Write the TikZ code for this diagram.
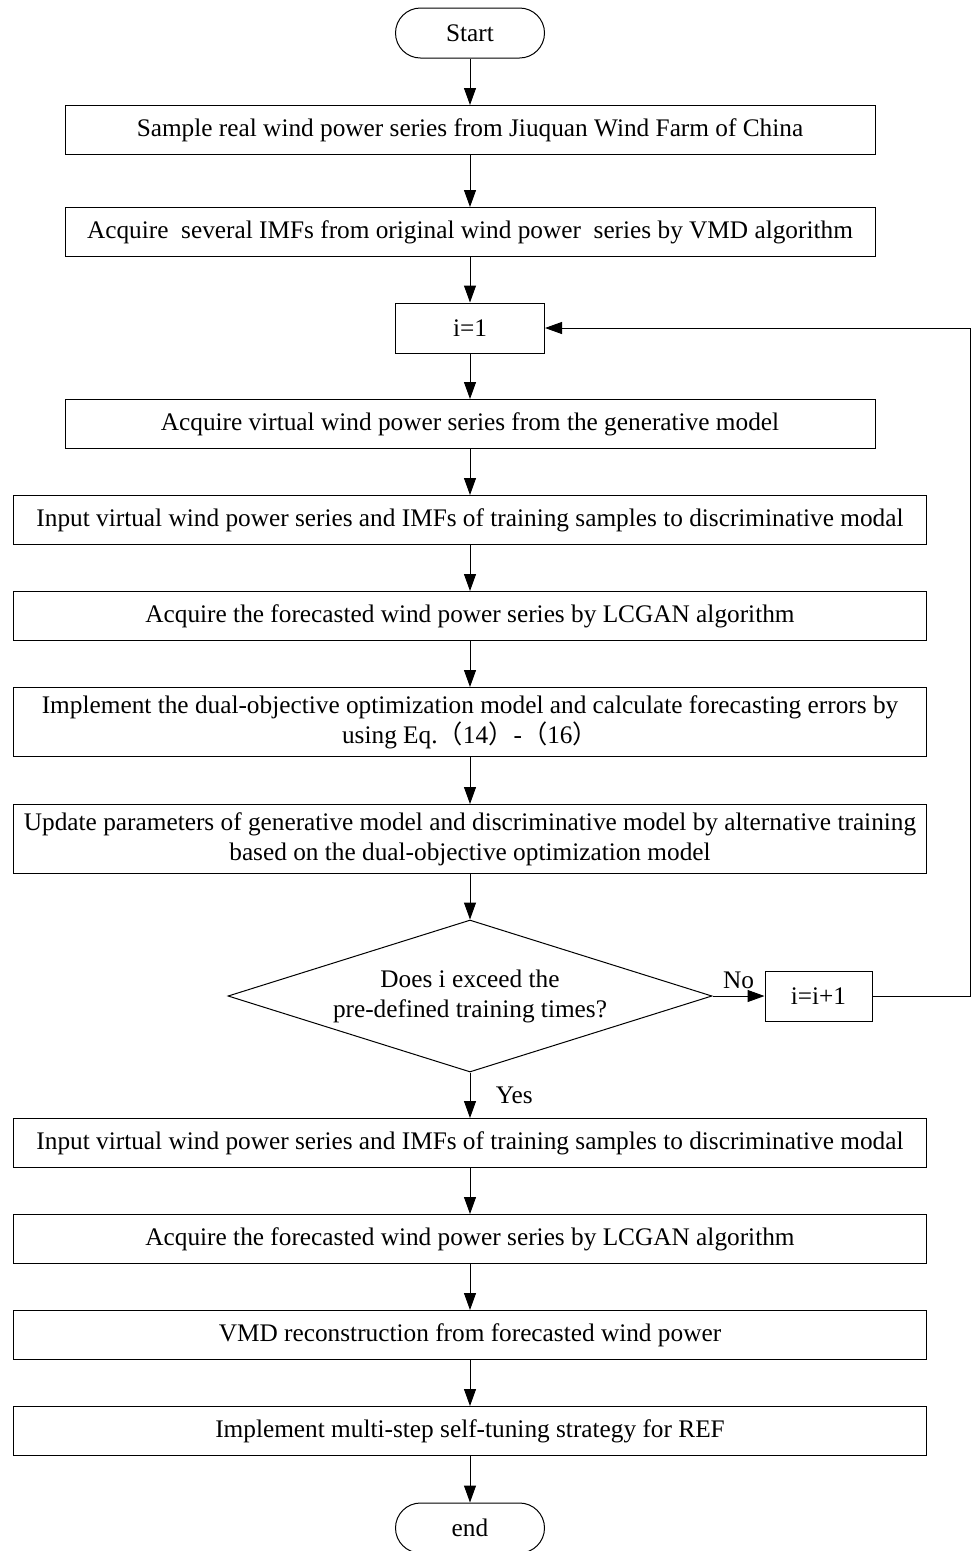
\documentclass[tikz,border=0pt]{standalone}
\usepackage{fontspec}
\setmainfont{Liberation Serif}
\newfontfamily\cjk{Noto Sans CJK SC}
\usetikzlibrary{shapes.geometric,arrows.meta}

\begin{document}
\begin{tikzpicture}[x=1pt,y=-1pt,line width=1pt,
  font=\fontsize{25.3}{30}\selectfont,
  >={Triangle[length=17pt,width=12pt]},
  term/.style={rectangle, draw, rounded corners=25pt, minimum width=149pt, minimum height=50pt, inner sep=0pt},
  box/.style={rectangle, draw, minimum width=810pt, minimum height=49pt, inner sep=0pt, align=center},
  wbox/.style={rectangle, draw, minimum width=913pt, minimum height=49pt, inner sep=0pt, align=center},
  small/.style={rectangle, draw, minimum height=50pt, inner sep=0pt}]
\useasboundingbox (0,0) rectangle (973,1551);

\node[term] (start) at (470,33) {Start};
\node[box] (samp) at (470,130) {Sample real wind power series from Jiuquan Wind Farm of China};
\node[box] (imf) at (470,232) {Acquire\ \ several IMFs from original wind power\ \ series by VMD algorithm};
\node[small, minimum width=149pt] (init) at (470,328) {i=1};
\node[box] (virt) at (470,424) {Acquire virtual wind power series from the generative model};
\node[wbox] (inp) at (470,520) {Input virtual wind power series and IMFs of training samples to discriminative modal};
\node[wbox] (fore) at (470,616) {Acquire the forecasted wind power series by LCGAN algorithm};
\node[wbox, minimum height=69pt] (impl) at (470,722) {Implement the dual-objective optimization model and calculate forecasting errors by\\ using Eq.{\cjk（}14{\cjk）}-{\cjk（}16{\cjk）}};
\node[wbox, minimum height=69pt] (upd) at (470,839) {Update parameters of generative model and discriminative model by alternative training\\ based on the dual-objective optimization model};
\node[diamond, draw, aspect=3.18, minimum width=484pt, minimum height=152pt, inner sep=0pt, align=center] (dec) at (470,996) {Does i exceed the\\ pre-defined training times?};
\node[small, minimum width=107pt] (incr) at (818.5,996) {i=i+1};
\node[wbox] (inp2) at (470,1143) {Input virtual wind power series and IMFs of training samples to discriminative modal};
\node[wbox] (fore2) at (470,1239) {Acquire the forecasted wind power series by LCGAN algorithm};
\node[wbox] (vmd) at (470,1335) {VMD reconstruction from forecasted wind power};
\node[wbox] (ref) at (470,1431) {Implement multi-step self-tuning strategy for REF};
\node[term] (end) at (470,1528) {end};
\coordinate (back) at (970,996);

\draw[->] (start) -- (samp);
\draw[->] (samp) -- (imf);
\draw[->] (imf) -- (init);
\draw[->] (init) -- (virt);
\draw[->] (virt) -- (inp);
\draw[->] (inp) -- (fore);
\draw[->] (fore) -- (impl);
\draw[->] (impl) -- (upd);
\draw[->] (upd) -- (dec);
\draw[->] (dec) -- node[midway, above=3pt] {No} (incr);
\draw[->] (incr) -- (back) |- (init);
\draw[->] (dec) -- node[midway, right=22pt] {Yes} (inp2);
\draw[->] (inp2) -- (fore2);
\draw[->] (fore2) -- (vmd);
\draw[->] (vmd) -- (ref);
\draw[->] (ref) -- (end);
\end{tikzpicture}
\end{document}
